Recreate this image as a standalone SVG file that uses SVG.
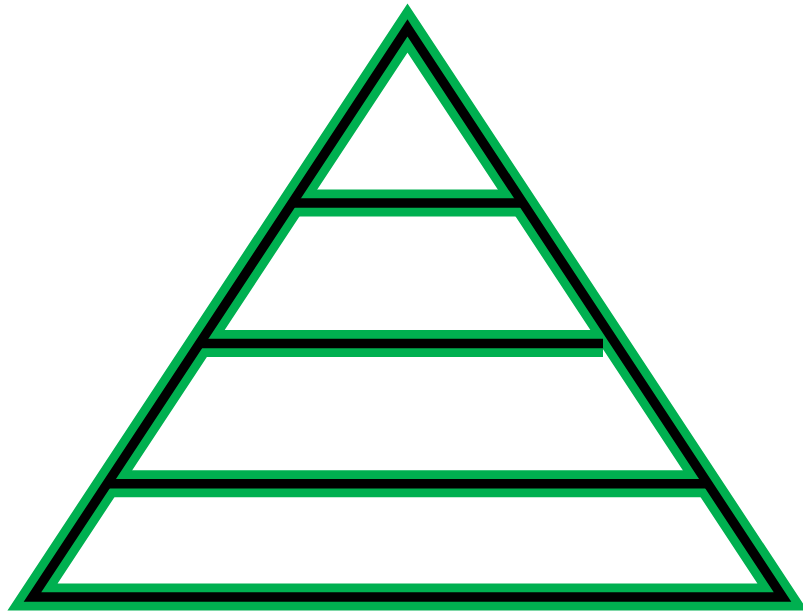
<svg xmlns="http://www.w3.org/2000/svg" width="803" height="614" viewBox="0 0 803 614">
<style>
.g{fill:none;stroke:#00B050;stroke-width:27;stroke-linejoin:miter;stroke-miterlimit:10}
.k{fill:none;stroke:#000000;stroke-width:9.5;stroke-linejoin:miter;stroke-miterlimit:10}
</style>
<rect width="803" height="614" fill="#ffffff"/>
<g id="pyramid-green">
<path class="g" d="M407.5 28 L782.5 597 L32.5 597 Z"/>
<path class="g" d="M292 203 H523"/>
<path class="g" d="M199.3 343.5 H603"/>
<path class="g" d="M106.7 483.7 H708.3"/>
</g>
<g id="pyramid-black">
<path class="k" d="M407.5 28 L782.5 597 L32.5 597 Z"/>
<path class="k" d="M292 203 H523"/>
<path class="k" d="M199.3 343.5 H603"/>
<path class="k" d="M106.7 483.7 H708.3"/>
</g>
</svg>
